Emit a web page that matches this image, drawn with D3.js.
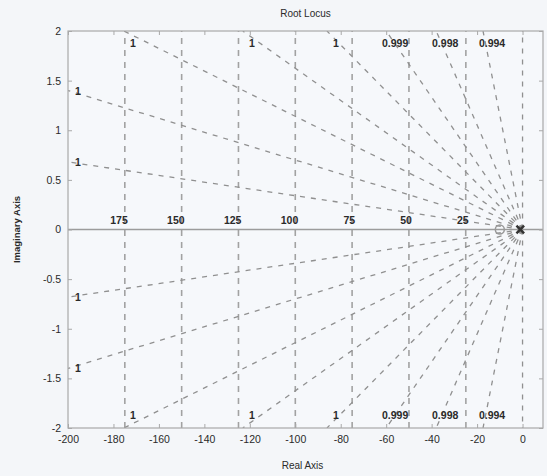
<!DOCTYPE html>
<html>
<head>
<meta charset="utf-8">
<script src="https://cdn.jsdelivr.net/npm/d3@7"></script>
<style>
  html, body { margin: 0; padding: 0; background: #f4f6f9; }
  svg { display: block; }
  text { font-family: "Liberation Sans", Arial, sans-serif; fill: #2a2a2a; }
</style>
</head>
<body>
<svg id="chart" width="547" height="476"></svg>
<script>
// ---- data ----
const xTicks = [-200, -180, -160, -140, -120, -100, -80, -60, -40, -20, 0];
const xTickLabels = ["-200", "-180", "-160", "-140", "-120", "-100", "-80", "-60", "-40", "-20", "0"];
const yTicks = [-2, -1.5, -1, -0.5, 0, 0.5, 1, 1.5, 2];
const yTickLabels = ["-2", "-1.5", "-1", "-0.5", "0", "0.5", "1", "1.5", "2"];
// natural-frequency circles of the s-plane grid
const wnValues = [25, 50, 75, 100, 125, 150, 175];
const wnLabels = ["25", "50", "75", "100", "125", "150", "175"];
// damping-ratio rays of the s-plane grid (zeta = 0 is the imaginary axis)
const zetaValues = [0.9999942, 0.9999755, 0.999935, 0.999868, 0.99973, 0.999445, 0.998618, 0.99345, 0];
const zetaLabels = ["1", "1", "1", "1", "1", "0.999", "0.998", "0.994", ""];
// open-loop poles and zeros
const poles = [{re: -1, im: 0}];
const zeros = [{re: -10, im: 0}];
// root locus branch on the real axis
const locus = [{re: -200, im: 0}, {re: 9, im: 0}];

// ---- layout ----
const svg = d3.select("#chart");
const m = {left: 68, right: 4, top: 31, bottom: 48};
const W = 547, H = 476;
const x = d3.scaleLinear().domain([-200, 9]).range([m.left, W - m.right]);
const y = d3.scaleLinear().domain([-2, 2]).range([H - m.bottom, m.top]);
const x0 = x.range()[0], x1 = x.range()[1], y0 = y.range()[1], y1 = y.range()[0];

svg.append("rect").attr("x", 0).attr("y", 0).attr("width", W).attr("height", H).attr("fill", "#f4f6f9");
svg.append("rect").attr("x", x0).attr("y", y0).attr("width", x1 - x0).attr("height", y1 - y0).attr("fill", "#f6f8fb");

const clip = svg.append("clipPath").attr("id", "clip").append("rect")
  .attr("x", x0).attr("y", y0).attr("width", x1 - x0).attr("height", y1 - y0);
const g = svg.append("g").attr("clip-path", "url(#clip)");

// natural frequency circles
const line = d3.line().x(d => x(d[0])).y(d => y(d[1]));
wnValues.forEach(wn => {
  const pts = d3.range(-2, 2.0001, 0.05).map(v => [-Math.sqrt(Math.max(wn * wn - v * v, 0)), v]);
  g.append("path").attr("d", line(pts)).attr("fill", "none")
    .attr("stroke", "#a2a2a2").attr("stroke-width", 1.6).attr("stroke-dasharray", "6,6");
});

// damping rays
function rayEnd(zeta, sign) {
  const th = Math.acos(zeta);
  const slope = Math.tan(th);           // |im| / |re|
  let re = -200, im = slope * 200;
  if (im > 2 || zeta === 0) { im = 2; re = zeta === 0 ? 0 : -2 / slope; }
  return [re, sign * im];
}
const rays = [];
zetaValues.forEach((z, i) => {
  [1, -1].forEach(s => rays.push({z, s, label: zetaLabels[i], end: rayEnd(z, s)}));
});
g.selectAll("path.ray").data(rays).enter().append("path").attr("class", "ray")
  .attr("d", d => line([[0, 0], d.end]))
  .attr("fill", "none").attr("stroke", "#909090").attr("stroke-width", 1.3)
  .attr("stroke-dasharray", "5,6");

// locus on real axis
g.append("path").attr("d", line(locus.map(p => [p.re, p.im])))
  .attr("stroke", "#9c9c9c").attr("stroke-width", 1.3).attr("fill", "none");

// frequency labels
svg.selectAll("text.wn").data(wnValues).enter().append("text").attr("class", "wn")
  .attr("x", d => x(-d) + 3).attr("y", y(0) - 6)
  .attr("text-anchor", "end").attr("font-size", 10.5).attr("font-weight", "bold")
  .text((d, i) => wnLabels[i]);

// damping labels
svg.selectAll("text.zeta").data(rays.filter(r => r.label)).enter().append("text").attr("class", "zeta")
  .attr("x", d => d.end[0] <= -199.9 ? x(d.end[0]) + 10 : x(d.end[0]) + 9)
  .attr("y", d => d.end[0] <= -199.9 ? y(d.end[1]) + 4 : (d.s > 0 ? y0 + 16 : y1 - 9))
  .attr("text-anchor", "middle").attr("font-size", 10.5).attr("font-weight", "bold")
  .text(d => d.label);

// poles (x) and zeros (o)
svg.selectAll("path.pole").data(poles).enter().append("path").attr("class", "pole")
  .attr("d", d3.symbol(d3.symbolCross2 || d3.symbolX, 40))
  .attr("transform", d => `translate(${x(d.re)},${y(d.im)})`)
  .attr("fill", "none").attr("stroke", "#333").attr("stroke-width", 2.4);
svg.selectAll("circle.zero").data(zeros).enter().append("circle").attr("class", "zero")
  .attr("cx", d => x(d.re)).attr("cy", d => y(d.im)).attr("r", 4.5)
  .attr("fill", "none").attr("stroke", "#999").attr("stroke-width", 1.5);

// axes frame and ticks
const axisColor = "#a9a9a9";
svg.append("rect").attr("x", x0).attr("y", y0).attr("width", x1 - x0).attr("height", y1 - y0)
  .attr("fill", "none").attr("stroke", axisColor).attr("stroke-width", 1.2);

const xb = svg.append("g").attr("transform", `translate(0,${y1})`)
  .call(d3.axisBottom(x).tickValues(xTicks).tickSizeInner(-4).tickSizeOuter(0).tickPadding(8).tickFormat((d, i) => xTickLabels[i]));
const xt = svg.append("g").attr("transform", `translate(0,${y0})`)
  .call(d3.axisTop(x).tickValues(xTicks).tickSizeInner(-4).tickSizeOuter(0).tickFormat(""));
const yl = svg.append("g").attr("transform", `translate(${x0},0)`)
  .call(d3.axisLeft(y).tickValues(yTicks).tickSizeInner(-4).tickSizeOuter(0).tickPadding(7).tickFormat((d, i) => yTickLabels[i]));
const yr = svg.append("g").attr("transform", `translate(${x1},0)`)
  .call(d3.axisRight(y).tickValues(yTicks).tickSizeInner(-4).tickSizeOuter(0).tickFormat(""));
[xb, xt, yl, yr].forEach(a => {
  a.select(".domain").remove();
  a.selectAll("line").attr("stroke", axisColor);
  a.selectAll("text").attr("font-size", 10.5).attr("fill", "#333")
    .attr("font-family", "Liberation Sans, Arial, sans-serif");
});

// titles
svg.append("text").attr("x", (x0 + x1) / 2).attr("y", 17).attr("text-anchor", "middle")
  .attr("font-size", 10).text("Root Locus");
svg.append("text").attr("x", (x0 + x1) / 2 - 3).attr("y", 469).attr("text-anchor", "middle")
  .attr("font-size", 10).text("Real Axis");
svg.append("text").attr("transform", `translate(20,${(y0 + y1) / 2}) rotate(-90)`)
  .attr("text-anchor", "middle").attr("font-size", 9.5).attr("font-weight", "bold").text("Imaginary Axis");
</script>
</body>
</html>
